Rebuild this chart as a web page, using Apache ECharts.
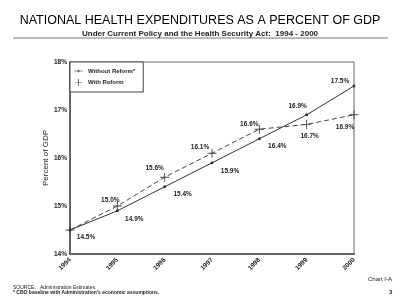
<!DOCTYPE html>
<html>
<head>
<meta charset="utf-8">
<script src="https://cdn.jsdelivr.net/npm/echarts@6/dist/echarts.min.js"></script>
<style>
  html, body { margin: 0; padding: 0; background: #fff; }
  #chart { width: 400px; height: 306px; }
</style>
</head>
<body>
<div id="chart"></div>
<script>
// data
const years = ["1994", "1995", "1996", "1997", "1998", "1999", "2000"];
const withoutReform = [14.5, 14.9, 15.4, 15.9, 16.4, 16.9, 17.5];
const withReform = [14.5, 15.0, 15.6, 16.1, 16.6, 16.7, 16.9];

// label offsets (style only), one per point
const withoutOffsets = [[16, 7], [17, 8], [18, 7], [18, 8], [18, 7], [-9, -9], [-14, -5]];
const withOffsets = [null, [-7, -6], [-10, -9], [-12, -6], [-10, -5], [3, 12], [-9, 12]];

const FONT = "Liberation Sans";
const plus = "path://M4.5,0H5.5V4.5H10V5.5H5.5V10H4.5V5.5H0V4.5H4.5Z";
const dotLine = "path://M0,4.6H10V5.4H0Z M3.6,5a1.4,1.4 0 1,0 2.8,0a1.4,1.4 0 1,0 -2.8,0Z";

function labelled(values, offsets) {
  return values.map((v, i) => ({
    value: v,
    label: offsets[i]
      ? { show: true, offset: offsets[i], position: "inside" }
      : { show: false },
  }));
}

const chart = echarts.init(document.getElementById("chart"));
chart.setOption({
  backgroundColor: "#fff",
  animation: false,
  textStyle: { fontFamily: FONT },
  title: [
    {
      text: "NATIONAL HEALTH EXPENDITURES AS A PERCENT OF GDP",
      left: "center",
      top: 9,
      textStyle: { fontSize: 12.5, fontWeight: "normal", color: "#000" },
    },
    {
      text: "Under Current Policy and the Health Security Act:  1994 - 2000",
      left: "center",
      top: 25,
      textStyle: { fontSize: 8, fontWeight: "bold", color: "#222" },
    },
  ],
  graphic: [
    {
      type: "line",
      shape: { x1: 13, y1: 38, x2: 388, y2: 38 },
      style: { stroke: "#777", lineWidth: 1 },
    },
    {
      type: "text",
      left: 13,
      top: 285,
      style: { text: "SOURCE:   Administration Estimates.", font: "5px " + FONT, fill: "#222" },
    },
    {
      type: "text",
      left: 13,
      top: 290,
      style: {
        text: "* CBO baseline with Administration's economic assumptions.",
        font: "bold 5px " + FONT,
        fill: "#222",
      },
    },
    {
      type: "text",
      left: 368,
      top: 276,
      style: { text: "Chart I-A", font: "6px " + FONT, fill: "#222" },
    },
    {
      type: "text",
      left: 389,
      top: 289,
      style: { text: "3", font: "bold 6px " + FONT, fill: "#222" },
    },
  ],
  legend: {
    orient: "vertical",
    left: 70,
    top: 62,
    itemWidth: 9,
    itemHeight: 7,
    itemGap: 5,
    padding: [6, 8, 6, 4],
    borderColor: "#444",
    borderWidth: 1,
    backgroundColor: "#fff",
    textStyle: { fontSize: 6, fontWeight: "bold", color: "#222", fontFamily: FONT },
    data: [
      { name: "Without Reform*", icon: dotLine },
      { name: "With Reform", icon: plus },
    ],
  },
  grid: {
    left: 70,
    right: 46,
    top: 62,
    bottom: 52,
    show: true,
    borderColor: "#666",
    borderWidth: 1,
  },
  xAxis: {
    type: "category",
    data: years,
    boundaryGap: false,
    axisLine: { lineStyle: { color: "#666", width: 2 } },
    axisTick: { show: false },
    axisLabel: {
      rotate: 45,
      fontSize: 6.5,
      fontWeight: "bold",
      color: "#222",
      margin: 5,
      interval: 0,
    },
    splitLine: { show: false },
  },
  yAxis: {
    type: "value",
    min: 14,
    max: 18,
    interval: 1,
    name: "Percent of GDP",
    nameLocation: "middle",
    nameGap: 20,
    nameMoveOverlap: false,
    nameTextStyle: { fontSize: 8, color: "#222" },
    axisLine: { show: true, lineStyle: { color: "#666", width: 2 } },
    axisTick: { show: false },
    axisLabel: { formatter: "{value}%", fontSize: 6.5, fontWeight: "bold", color: "#222", margin: 3 },
    splitLine: { show: false },
  },
  series: [
    {
      name: "Without Reform*",
      type: "line",
      data: labelled(withoutReform, withoutOffsets),
      symbol: "circle",
      symbolSize: 3,
      lineStyle: { color: "#333", width: 1 },
      itemStyle: { color: "#333" },
      label: {
        formatter: (p) => p.value.toFixed(1) + "%",
        fontSize: 6.5,
        fontWeight: "bold",
        color: "#222",
      },
      z: 3,
    },
    {
      name: "With Reform",
      type: "line",
      data: labelled(withReform, withOffsets),
      symbol: plus,
      symbolSize: 9,
      lineStyle: { color: "#444", width: 1, type: [5, 3] },
      itemStyle: { color: "#444" },
      label: {
        formatter: (p) => p.value.toFixed(1) + "%",
        fontSize: 6.5,
        fontWeight: "bold",
        color: "#222",
      },
      z: 2,
    },
  ],
});
</script>
</body>
</html>
